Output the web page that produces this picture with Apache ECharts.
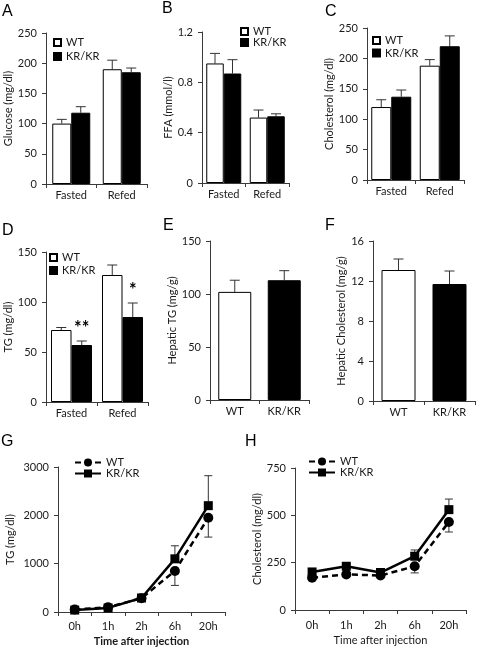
<!DOCTYPE html>
<html><head><meta charset="utf-8">
<script src="https://cdn.jsdelivr.net/npm/echarts@6/dist/echarts.min.js"></script>
<style>html,body{margin:0;padding:0;background:#fff}#c{width:477px;height:648px}</style>
</head><body><div id="c"></div>
<script>
// ---- data ----
const condCats = ['Fasted', 'Refed'];
const genoCats = ['WT', 'KR/KR'];
const timeCats = ['0h', '1h', '2h', '6h', '20h'];
const seriesNames = ['WT', 'KR/KR'];

const glucoseWT = [100, 190], glucoseWTErr = [7, 15];
const glucoseKR = [118, 185], glucoseKRErr = [10, 7];
const ffaWT = [0.95, 0.52], ffaWTErr = [0.08, 0.06];
const ffaKR = [0.87, 0.53], ffaKRErr = [0.11, 0.02];
const cholWT = [120, 188], cholWTErr = [12, 10];
const cholKR = [137, 220], cholKRErr = [11, 17];
const tgWT = [72, 127], tgWTErr = [2.5, 10];
const tgKR = [57, 85], tgKRErr = [4, 14];
const tgStars = ['**', '*'];
const hepTG = [102, 113], hepTGErr = [11, 9];
const hepChol = [13.1, 11.7], hepCholErr = [1.1, 1.3];
const tgTimeWT = [50, 100, 285, 850, 1950], tgTimeWTErr = [20, 20, 20, 300, 400];
const tgTimeKR = [40, 85, 290, 1100, 2200], tgTimeKRErr = [20, 20, 20, 270, 620];
const cholTimeWT = [170, 188, 182, 231, 465], cholTimeWTErr = [10, 10, 10, 35, 53];
const cholTimeKR = [201, 231, 198, 284, 530], cholTimeKRErr = [10, 10, 10, 33, 56];

// ---- styling / builders ----
const FONT = 'Lato';
const AX = '#3a3a3a';
const TXT = '#1a1a1a';
const option = {
  animation: false, backgroundColor: '#fff',
  textStyle: { fontFamily: FONT },
  title: [], legend: [], grid: [], xAxis: [], yAxis: [], series: []
};

function addPanel(p) {
  const i = option.grid.length;
  option.grid.push({ left: p.left, top: p.top, width: p.width, height: p.height });
  option.xAxis.push({
    type: 'category', gridIndex: i, data: p.cats, boundaryGap: true,
    axisLine: { lineStyle: { color: AX, width: 1 } },
    axisTick: { show: true, length: 4, alignWithLabel: false, lineStyle: { color: AX } },
    axisLabel: { color: TXT, fontSize: 11, margin: p.xMargin || 6, fontFamily: FONT },
    name: p.xName || '', nameLocation: 'middle', nameGap: p.xNameGap || 24,
    nameTextStyle: { color: TXT, fontSize: 11, fontFamily: FONT, fontWeight: p.xNameBold ? 'bold' : 'normal' }
  });
  option.yAxis.push({
    type: 'value', gridIndex: i, min: 0, max: p.max, interval: p.interval,
    splitLine: { show: false },
    axisLine: { show: true, lineStyle: { color: AX, width: 1 } },
    axisTick: { show: true, length: 4, lineStyle: { color: AX } },
    axisLabel: { color: TXT, fontSize: 11, margin: 9, fontFamily: FONT, formatter: v => String(v) },
    name: p.yName, nameLocation: 'middle', nameRotate: 90, nameGap: p.yNameGap,
    nameTextStyle: { color: TXT, fontSize: 11, fontFamily: FONT }
  });
  option.title.push({
    text: p.letter, left: p.lx, top: p.ly, padding: 0,
    textStyle: { fontSize: 16, fontWeight: 'normal', color: '#000', fontFamily: 'Liberation Sans' }
  });
  return i;
}

function errSeries(i, vals, errs, dx, dir, cap, stars, starOff) {
  return {
    type: 'custom', xAxisIndex: i, yAxisIndex: i, silent: true, z: 1,
    data: vals.map((v, k) => [k, v, errs[k]]),
    renderItem(params, api) {
      const k = api.value(0), v = api.value(1), e = api.value(2);
      const p0 = api.coord([k, v]);
      const p1 = api.coord([k, v + dir * e]);
      const x = p0[0] + dx;
      const st = { stroke: '#333', lineWidth: 1 };
      const ch = [
        { type: 'line', shape: { x1: x, y1: p0[1], x2: x, y2: p1[1] }, style: st },
        { type: 'line', shape: { x1: x - cap, y1: p1[1], x2: x + cap, y2: p1[1] }, style: st }
      ];
      if (stars && stars[params.dataIndex]) {
        ch.push({ type: 'text', x: x, y: p1[1] - starOff, style: {
          text: stars[params.dataIndex], fill: '#000', font: 'bold 18px ' + FONT,
          align: 'center', verticalAlign: 'bottom' } });
      }
      return { type: 'group', children: ch };
    }
  };
}

function barPanel(p) {
  const i = addPanel(p);
  const bw = p.barWidth;
  option.series.push({
    name: seriesNames[0], type: 'bar', xAxisIndex: i, yAxisIndex: i, barWidth: bw, barGap: '0%', z: 2,
    itemStyle: { color: '#fff', borderColor: '#000', borderWidth: 1 }, data: p.wt
  });
  option.series.push({
    name: seriesNames[1], type: 'bar', xAxisIndex: i, yAxisIndex: i, barWidth: bw, barGap: '0%', z: 2,
    itemStyle: { color: '#000', borderColor: '#000', borderWidth: 1 }, data: p.kr
  });
  option.series.push(errSeries(i, p.wt, p.wtErr, -bw / 2, 1, 5));
  option.series.push(errSeries(i, p.kr, p.krErr, bw / 2, 1, 5, p.stars, 4));
  option.legend.push({
    left: p.legX, top: p.legY, orient: 'vertical', itemWidth: 7, itemHeight: 7, itemGap: p.legGap,
    icon: 'rect', padding: 0, selectedMode: false, data: seriesNames,
    textStyle: { color: TXT, fontSize: 11, fontFamily: FONT }
  });
}

function singlePanel(p) {
  const i = addPanel(p);
  option.series.push({
    type: 'bar', xAxisIndex: i, yAxisIndex: i, barWidth: p.barWidth, z: 2,
    data: p.vals.map((v, k) => ({ value: v, itemStyle: { color: k === 0 ? '#fff' : '#000', borderColor: '#000', borderWidth: 1 } }))
  });
  option.series.push(errSeries(i, p.vals, p.errs, 0, 1, 5));
}

function linePanel(p) {
  const i = addPanel(p);
  option.series.push(errSeries(i, p.wt, p.wtErr, 0, -1, 4));
  option.series.push(errSeries(i, p.kr, p.krErr, 0, 1, 4));
  option.series.push({
    name: seriesNames[0] + ' ', type: 'line', xAxisIndex: i, yAxisIndex: i, z: 3,
    symbol: 'circle', symbolSize: 10, data: p.wt,
    lineStyle: { color: '#000', width: 2.5, type: [6, 4] }, itemStyle: { color: '#000' }
  });
  option.series.push({
    name: seriesNames[1] + ' ', type: 'line', xAxisIndex: i, yAxisIndex: i, z: 4,
    symbol: 'rect', symbolSize: 9, data: p.kr,
    lineStyle: { color: '#000', width: 2.5 }, itemStyle: { color: '#000' }
  });
  option.legend.push({
    left: p.legX, top: p.legY, orient: 'vertical', itemWidth: 26, itemHeight: 10, itemGap: p.legGap,
    padding: 0, selectedMode: false, data: seriesNames.map(n => n + ' '),
    formatter: n => n.trim(),
    textStyle: { color: TXT, fontSize: 11, fontFamily: FONT }
  });
}

barPanel({ letter: 'A', lx: 2, ly: 4, left: 46, top: 33, width: 101, height: 151, cats: condCats,
  max: 250, interval: 50, yName: 'Glucose (mg/dl)', yNameGap: 28, barWidth: 19,
  wt: glucoseWT, wtErr: glucoseWTErr, kr: glucoseKR, krErr: glucoseKRErr, legX: 53, legY: 37, legGap: 3 });
barPanel({ letter: 'B', lx: 162, ly: 1, left: 202, top: 32, width: 87, height: 151, cats: condCats,
  max: 1.2, interval: 0.4, yName: 'FFA (mmol/l)', yNameGap: 27, barWidth: 17.5,
  wt: ffaWT, wtErr: ffaWTErr, kr: ffaKR, krErr: ffaKRErr, legX: 240, legY: 26, legGap: 0 });
barPanel({ letter: 'C', lx: 325, ly: 4, left: 367, top: 28, width: 97, height: 152, cats: condCats,
  max: 250, interval: 50, yName: 'Cholesterol (mg/dl)', yNameGap: 32, barWidth: 20,
  wt: cholWT, wtErr: cholWTErr, kr: cholKR, krErr: cholKRErr, legX: 372, legY: 35, legGap: 1.5 });
barPanel({ letter: 'D', lx: 2, ly: 223, left: 46, top: 252, width: 102, height: 150, cats: condCats,
  max: 150, interval: 50, yName: 'TG (mg/dl)', yNameGap: 28, barWidth: 20.5,
  wt: tgWT, wtErr: tgWTErr, kr: tgKR, krErr: tgKRErr, stars: tgStars, legX: 49, legY: 252, legGap: 2 });
singlePanel({ letter: 'E', lx: 163, ly: 218, left: 210, top: 241, width: 99, height: 159, cats: genoCats,
  max: 150, interval: 50, yName: 'Hepatic TG (mg/g)', yNameGap: 31, barWidth: 33,
  vals: hepTG, errs: hepTGErr });
singlePanel({ letter: 'F', lx: 325, ly: 218, left: 373, top: 241, width: 102, height: 160, cats: genoCats,
  max: 16, interval: 4, yName: 'Hepatic Cholesterol (mg/g)', yNameGap: 25, barWidth: 34,
  vals: hepChol, errs: hepCholErr });
linePanel({ letter: 'G', lx: 1, ly: 434, left: 58, top: 467, width: 167, height: 145, cats: timeCats,
  max: 3000, interval: 1000, yName: 'TG (mg/dl)', yNameGap: 42, xMargin: 9,
  xName: 'Time after injection', xNameGap: 24, xNameBold: true,
  wt: tgTimeWT, wtErr: tgTimeWTErr, kr: tgTimeKR, krErr: tgTimeKRErr, legX: 74, legY: 457, legGap: 0 });
linePanel({ letter: 'H', lx: 245, ly: 434, left: 295, top: 468, width: 171, height: 142, cats: timeCats,
  max: 750, interval: 250, yName: 'Cholesterol (mg/dl)', yNameGap: 31, xMargin: 10,
  xName: 'Time after injection', xNameGap: 25,
  wt: cholTimeWT, wtErr: cholTimeWTErr, kr: cholTimeKR, krErr: cholTimeKRErr, legX: 308, legY: 456, legGap: 0 });

const chart = echarts.init(document.getElementById('c'), null, { renderer: 'canvas' });
chart.setOption(option);
</script>
</body></html>
